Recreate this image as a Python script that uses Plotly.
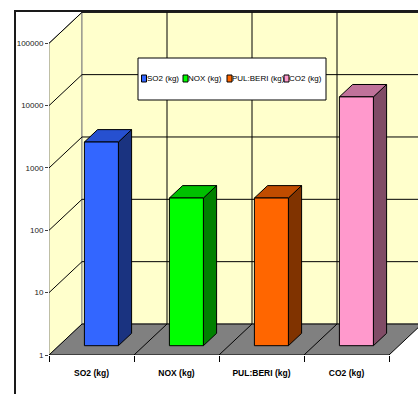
import math
import plotly.graph_objects as go

# ---- data ----
categories = ["SO2 (kg)", "NOX (kg)", "PUL:BERI (kg)", "CO2 (kg)"]
values = [1850, 234, 234, 9800]
front_colors = ["#3366FF", "#00FF00", "#FF6600", "#FF99CC"]
top_colors = ["#2650D0", "#00C000", "#C04C00", "#C0729A"]
side_colors = ["#1A3380", "#008000", "#803300", "#804C66"]
y_tickvals = [1, 10, 100, 1000, 10000, 100000]
y_ticktext = ["1", "10", "100", "1000", "10000", "100000"]

FONT = "Liberation Sans, Arial, sans-serif"

# ---- geometry of the pseudo-3D projection ----
W, H = 418, 394
L, R, T, B = 49, 0, 11, 39
PW, PH = W - L - R, H - T - B
PX_PER_CAT = 85.0
PX_PER_DEC = 62.34
XMAX = PW / PX_PER_CAT
YMAX = PH / PX_PER_DEC
DU = 33 / PX_PER_CAT        # full depth offset, category units
DL = 31 / PX_PER_DEC        # full depth offset, decades
BAR_FRONT, BAR_DEPTH, BAR_W = 0.3, 0.4, 0.4
N = len(categories)

def yv(lg):
    return 10 ** lg

fig = go.Figure()

def poly(xs, lgs, fill, line, width=1):
    fig.add_trace(go.Scatter(
        x=list(xs) + [xs[0]], y=[yv(v) for v in list(lgs) + [lgs[0]]],
        mode="lines", fill="toself", fillcolor=fill,
        line=dict(color=line, width=width), hoverinfo="skip", showlegend=False))

def seg(x0, l0, x1, l1, color="#000000", width=1):
    fig.add_trace(go.Scatter(
        x=[x0, x1], y=[yv(l0), yv(l1)], mode="lines",
        line=dict(color=color, width=width), hoverinfo="skip", showlegend=False))

top_dec = math.log10(y_tickvals[-1])
# side wall
poly([0, DU, DU, 0], [0, DL, top_dec + DL, top_dec], "#FFFFCC", "#808080")
# back wall
poly([DU, XMAX + 1, XMAX + 1, DU], [DL, DL, top_dec + DL, top_dec + DL], "#FFFFCC", "#808080")
# gridlines
for tv in y_tickvals[1:]:
    lg = math.log10(tv)
    seg(0, lg, DU, lg + DL)
    seg(DU, lg + DL, XMAX + 1, lg + DL)
for k in range(1, N):
    seg(k + DU, DL, k + DU, top_dec + DL)
# floor
poly([0, N, N + DU, DU], [0, 0, DL, DL], "#808080", "#000000")
for k in range(1, N):
    seg(k, 0, k + DU, DL)

# bars
for i, v in enumerate(values):
    c = i + 0.5
    x0 = c - BAR_W / 2 + BAR_FRONT * DU
    x1 = c + BAR_W / 2 + BAR_FRONT * DU
    b0 = BAR_FRONT * DL
    t0 = math.log10(v) + BAR_FRONT * DL
    sx, sl = BAR_DEPTH * DU, BAR_DEPTH * DL
    poly([x1, x1 + sx, x1 + sx, x1], [b0, b0 + sl, t0 + sl, t0], side_colors[i], "#000000")
    poly([x0, x1, x1 + sx, x0 + sx], [t0, t0, t0 + sl, t0 + sl], top_colors[i], "#000000")
    poly([x0, x1, x1, x0], [b0, b0, t0, t0], front_colors[i], "#000000")

# ---- layout helpers (pixel -> paper) ----
def px(x):
    return (x - L) / PW

def py(y):
    return (H - B - y) / PH

shapes = [
    dict(type="line", xref="paper", yref="paper", x0=px(15), y0=py(H + 2), x1=px(15), y1=py(11),
         line=dict(color="#1a1a1a", width=2)),
    dict(type="line", xref="paper", yref="paper", x0=px(14), y0=py(11), x1=px(W + 2), y1=py(11),
         line=dict(color="#1a1a1a", width=2)),
    # legend box
    dict(type="rect", xref="paper", yref="paper", x0=px(138), y0=py(100), x1=px(326), y1=py(58),
         fillcolor="#FFFFFF", line=dict(color="#000000", width=1)),
]
annotations = []
leg_marker_x = [141.5, 183, 227, 284]
leg_text_x = [146, 187, 230.5, 288]
for i, name in enumerate(categories):
    shapes.append(dict(type="rect", xref="paper", yref="paper",
                       x0=px(leg_marker_x[i]), x1=px(leg_marker_x[i] + 5),
                       y0=py(82), y1=py(75), fillcolor=front_colors[i],
                       line=dict(color="#000000", width=1)))
    annotations.append(dict(xref="paper", yref="paper", x=px(leg_text_x[i] - 1), y=py(78.5),
                            xanchor="left", yanchor="middle", text=name, showarrow=False,
                            font=dict(family=FONT, size=8, color="#000000")))

fig.update_layout(
    width=W, height=H, margin=dict(l=L, r=R, t=T, b=B, pad=0),
    paper_bgcolor="#FFFFFF", plot_bgcolor="#FFFFFF", showlegend=False,
    shapes=shapes, annotations=annotations,
    xaxis=dict(range=[0, XMAX], showgrid=False, zeroline=False, showline=False,
               tickvals=[i + 0.5 for i in range(N)], ticktext=categories,
               ticks="outside", ticklen=0, ticklabelstandoff=10,
               tickfont=dict(family=FONT, size=8.5, color="#000000", weight="bold"),
               minor=dict(tickvals=list(range(N + 1)), ticks="outside", ticklen=6,
                          tickcolor="#000000", tickwidth=1),
               fixedrange=True),
    yaxis=dict(type="log", range=[0, YMAX], showgrid=False, zeroline=False, showline=False,
               tickvals=y_tickvals, ticktext=y_ticktext, ticks="outside", ticklen=3,
               tickcolor="#404040", tickfont=dict(family=FONT, size=8, color="#222222"),
               fixedrange=True),
)

fig.write_html("out.html")
